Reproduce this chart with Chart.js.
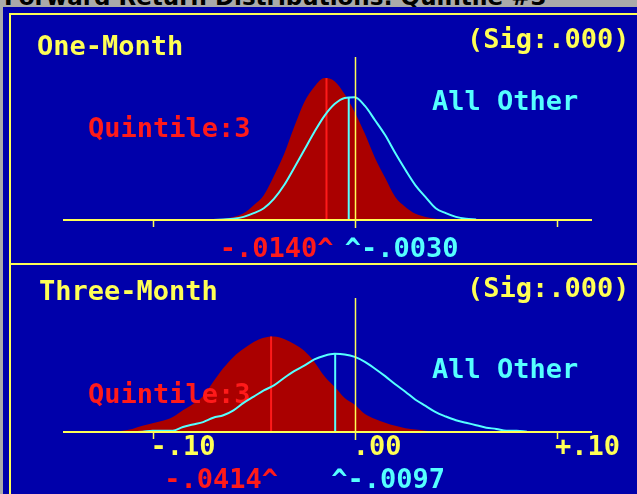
<!DOCTYPE html>
<html>
<head>
<meta charset="utf-8">
<script src="https://cdn.jsdelivr.net/npm/chart.js@4.4.1/dist/chart.umd.min.js"></script>
<style>
  html, body { margin:0; padding:0; }
  body { width:637px; height:494px; overflow:hidden; position:relative; background:#aaaaaa; }
  #title { position:absolute; left:4px; top:-14px; font:bold 23px "DejaVu Sans", sans-serif; line-height:23px; color:#000; white-space:nowrap; }
  #panel { position:absolute; left:3px; top:7px; width:634px; height:487px; background:#0000aa; }
  .yl { position:absolute; background:#ffff55; }
  canvas { position:absolute; left:0; top:0; }
</style>
</head>
<body>
<div id="title">Forward Return Distributions: Quintile #3</div>
<div id="panel"></div>
<div class="yl" style="left:9px;top:13px;width:628px;height:2px"></div>
<div class="yl" style="left:9px;top:13px;width:2px;height:481px"></div>
<div class="yl" style="left:9px;top:263px;width:628px;height:2px"></div>
<canvas id="cTop" width="637" height="494"></canvas>
<canvas id="cBot" width="637" height="494"></canvas>
<script>
// ---------- data ----------
// One-Month panel: return grid and densities
const retTop   = [-0.070,-0.065,-0.060,-0.055,-0.050,-0.045,-0.040,-0.035,-0.030,-0.025,-0.020,-0.015,-0.010,-0.005,0.000,0.005,0.010,0.015,0.020,0.025,0.030,0.035,0.040,0.045,0.050,0.055,0.060];
const quinTop  = [0,0.2,0.5,1.1,2.4,4.0,7.1,10.6,15.0,19.0,21.5,22.9,22.4,20.3,17.4,13.9,10.0,6.8,3.7,2.1,1.0,0.5,0.2,0,0,0,0];
const otherTop = [0,0.1,0.2,0.5,1.1,1.9,3.4,5.6,8.4,11.3,14.2,16.8,18.7,19.7,19.8,18.4,16.1,13.7,10.8,8.1,5.6,3.7,1.9,1.1,0.5,0.2,0.1];
// Three-Month panel
const retBot   = [-0.120,-0.115,-0.110,-0.105,-0.100,-0.095,-0.090,-0.085,-0.080,-0.075,-0.070,-0.065,-0.060,-0.055,-0.050,-0.045,-0.040,-0.035,-0.030,-0.025,-0.020,-0.015,-0.010,-0.005,0.000,0.005,0.010,0.015,0.020,0.025,0.030,0.035,0.040,0.045,0.050,0.055,0.060,0.065,0.070,0.075,0.080,0.085];
const quinBot  = [0,0.2,0.5,1.0,1.4,1.8,2.4,3.5,4.5,5.8,8.1,10.3,12.1,13.4,14.5,15.2,15.4,15.0,14.2,13.1,11.3,9.0,7.3,5.5,4.4,2.9,2.1,1.5,1.0,0.6,0.4,0.2,0,0,0,0,0,0,0,0,0,0];
const otherBot = [0,0,0,0.05,0.2,0.2,0.2,0.8,1.2,1.6,2.3,2.7,3.5,4.7,5.7,6.7,7.5,8.7,9.8,10.7,11.7,12.3,12.6,12.5,12.1,11.3,10.2,9.0,7.7,6.5,5.2,4.2,3.2,2.5,1.9,1.5,1.1,0.7,0.5,0.2,0.2,0.1];
// means, density at the mean, significance
const periods    = ['One-Month','Three-Month'];
const meanQuin   = [-0.0140, -0.0414];
const meanOther  = [-0.0030, -0.0097];
const peakQuin   = [22.9, 15.4];
const peakOther  = [19.8, 12.6];
const sigValues  = [0.000, 0.000];
const groupQuin  = 'Quintile:3';
const groupOther = 'All Other';
// x axis ticks
const tickValues = [-0.10, 0.00, 0.10];
const tickLabels = ['-.10', '.00', '+.10'];

// ---------- styling ----------
const YELLOW = '#ffff55', RED = '#ff1a1a', DARKRED = '#aa0000', CYAN = '#55ffff';
const FONT = 'bold 27px "DejaVu Sans Mono", monospace';
const X_MIN = -0.1443, X_MAX = 0.1173;

function fmt(m) { return (m < 0 ? '-' : '+') + Math.abs(m).toFixed(4).slice(1); }
function pts(xs, ys) { return xs.map((x, i) => ({ x: x, y: ys[i] })); }

const panels = [
  { id:'cTop', ret:retTop, quin:quinTop, other:otherTop, i:0, yMax:26.3,
    pad:{ left:63, right:45, top:57, bottom:274 },
    titleXY:[37,55], sigXY:[467,48], quinXY:[88,137], otherXY:[432,110], meanY:257, tickLabelY:null },
  { id:'cBot', ret:retBot, quin:quinBot, other:otherBot, i:1, yMax:21.6,
    pad:{ left:63, right:45, top:298, bottom:62 },
    titleXY:[39,300], sigXY:[467,297], quinXY:[88,403], otherXY:[432,378], meanY:488, tickLabelY:455 }
];

function line(ctx, x1, y1, x2, y2) { ctx.beginPath(); ctx.moveTo(x1, y1); ctx.lineTo(x2, y2); ctx.stroke(); }

panels.forEach(p => {
  const i = p.i;
  const deco = {
    id: 'deco',
    afterDatasetDraw(chart, args) {
      if (args.index !== 0) return;
      const ctx = chart.ctx;
      ctx.save();
      ctx.font = FONT; ctx.fillStyle = RED; ctx.textAlign = 'left'; ctx.textBaseline = 'alphabetic';
      ctx.fillText(groupQuin, p.quinXY[0], p.quinXY[1]);
      ctx.restore();
    },
    afterDatasetsDraw(chart) {
      const { ctx, chartArea: a, scales: { x, y } } = chart;
      const y0 = y.getPixelForValue(0);
      ctx.save();
      ctx.strokeStyle = YELLOW;
      ctx.lineWidth = 2;
      line(ctx, a.left, y0, a.right, y0);
      ctx.lineWidth = 1.5;
      tickValues.forEach(t => {
        const px = Math.round(x.getPixelForValue(t)) + 0.5;
        if (t === 0) line(ctx, px, a.top, px, y0 + 8);
        else line(ctx, px, y0, px, y0 + 7);
      });
      ctx.restore();
    },
    afterDraw(chart) {
      const { ctx, scales: { x } } = chart;
      ctx.save();
      ctx.font = FONT; ctx.textBaseline = 'alphabetic';
      ctx.textAlign = 'left';
      ctx.fillStyle = YELLOW;
      ctx.fillText(periods[i], p.titleXY[0], p.titleXY[1]);
      ctx.fillText('(Sig:' + sigValues[i].toFixed(3).slice(1) + ')', p.sigXY[0], p.sigXY[1]);
      ctx.fillStyle = CYAN;
      ctx.fillText(groupOther, p.otherXY[0], p.otherXY[1]);
      if (p.tickLabelY !== null) {
        ctx.fillStyle = YELLOW;
        tickValues.forEach((t, k) => ctx.fillText(tickLabels[k], x.getPixelForValue(t) - 2, p.tickLabelY));
      }
      ctx.fillStyle = CYAN;
      ctx.fillText('^' + fmt(meanOther[i]), x.getPixelForValue(meanOther[i]) - 4, p.meanY);
      ctx.textAlign = 'right';
      ctx.fillStyle = RED;
      ctx.fillText(fmt(meanQuin[i]) + '^', x.getPixelForValue(meanQuin[i]) + 7, p.meanY);
      ctx.restore();
    }
  };

  new Chart(document.getElementById(p.id), {
    type: 'line',
    data: {
      datasets: [
        { label: groupQuin, data: pts(p.ret, p.quin), fill: 'origin', backgroundColor: DARKRED,
          borderColor: DARKRED, borderWidth: 0, tension: 0.3, cubicInterpolationMode: 'monotone', order: 4 },
        { label: 'mean ' + groupQuin, data: [{ x: meanQuin[i], y: 0 }, { x: meanQuin[i], y: peakQuin[i] }],
          borderColor: RED, borderWidth: 2, fill: false, order: 3 },
        { label: groupOther, data: pts(p.ret, p.other), fill: false, borderColor: CYAN, borderWidth: 2,
          tension: 0.3, cubicInterpolationMode: 'monotone', order: 2 },
        { label: 'mean ' + groupOther, data: [{ x: meanOther[i], y: 0 }, { x: meanOther[i], y: peakOther[i] }],
          borderColor: CYAN, borderWidth: 2, fill: false, order: 1 }
      ]
    },
    options: {
      responsive: false,
      animation: false,
      devicePixelRatio: 1,
      layout: { padding: p.pad },
      elements: { point: { radius: 0, hoverRadius: 0 } },
      plugins: { legend: { display: false }, tooltip: { enabled: false }, title: { display: false } },
      scales: {
        x: { type: 'linear', display: false, min: X_MIN, max: X_MAX },
        y: { type: 'linear', display: false, min: 0, max: p.yMax }
      },
      events: []
    },
    plugins: [deco]
  });
});
</script>
</body>
</html>
